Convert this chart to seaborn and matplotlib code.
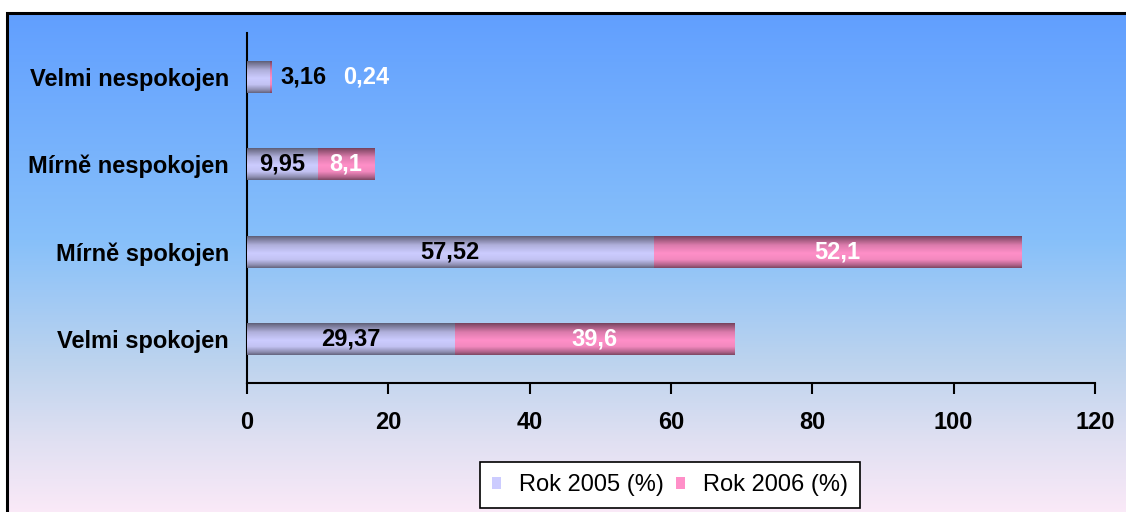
import numpy as np
import matplotlib
matplotlib.use('Agg')
import matplotlib.pyplot as plt
import seaborn as sns
from matplotlib.patches import Rectangle, Patch

# data
categories = ['Velmi nespokojen', 'Mírně nespokojen', 'Mírně spokojen', 'Velmi spokojen']
rok_2005 = [3.16, 9.95, 57.52, 29.37]
rok_2006 = [0.24, 8.1, 52.1, 39.6]
labels_2005 = ['3,16', '9,95', '57,52', '29,37']
labels_2006 = ['0,24', '8,1', '52,1', '39,6']
series_names = ['Rok 2005 (%)', 'Rok 2006 (%)']
x_ticks = [0, 20, 40, 60, 80, 100, 120]

sns.set_style('white')
plt.rcParams['font.family'] = ['Liberation Sans', 'DejaVu Sans']
plt.rcParams['text.color'] = 'black'
plt.rcParams['xtick.color'] = 'black'
plt.rcParams['ytick.color'] = 'black'

fig = plt.figure(figsize=(11.26, 5.12), dpi=100)

# background gradient inside the black frame
bg = fig.add_axes([0, 0, 1, 1], zorder=-10)
stops = [0.0, 0.45, 0.7, 0.85, 1.0]
cols = np.array([(97, 159, 255), (135, 192, 250), (190, 212, 238),
                 (224, 224, 242), (252, 234, 248)]) / 255
t = np.linspace(0, 1, 300)
grad = np.stack([np.interp(t, stops, cols[:, i]) for i in range(3)], axis=1)
frame_left = 7 / 1126
frame_top = 1 - 13 / 512
bg.imshow(grad[:, None, :], aspect='auto', extent=(frame_left, 1.01, -0.01, frame_top),
          origin='upper')
bg.set_xlim(0, 1)
bg.set_ylim(0, 1)
bg.axis('off')
fig.patches.append(Rectangle((frame_left, -0.02), 1.0, frame_top + 0.02, transform=fig.transFigure,
                             fill=False, edgecolor='black', linewidth=2.2, zorder=-5))

ax = fig.add_axes([247 / 1126, 1 - 383 / 512, 848 / 1126, 350 / 512])
ax.set_facecolor('none')

totals = [a + b for a, b in zip(rok_2005, rok_2006)]
c2005 = np.array([204, 204, 255]) / 255
c2006 = np.array([255, 143, 200]) / 255
sns.barplot(x=totals, y=categories, orient='h', color=c2006, width=0.37, ax=ax,
            saturation=1, edgecolor='none')
sns.barplot(x=rok_2005, y=categories, orient='h', color=c2005, width=0.37, ax=ax,
            saturation=1, edgecolor='none')

# cylinder-like shading
pos = [0.0, 0.08, 0.3, 0.55, 0.75, 0.92, 1.0]
fac = [0.42, 0.55, 0.86, 1.0, 0.95, 0.68, 0.5]
shade = np.interp(np.linspace(0, 1, 60), pos, fac)
for p in ax.patches:
    base = np.array(p.get_facecolor()[:3])
    img = np.clip(shade[:, None, None] * base[None, None, :], 0, 1)
    x0, y0 = p.get_x(), p.get_y()
    w, h = p.get_width(), p.get_height()
    im = ax.imshow(img, aspect='auto', extent=(x0, x0 + w, y0 + h, y0), origin='upper',
                   zorder=3, interpolation='bilinear')
    im.set_clip_path(p)

ax.set_xlim(0, 120)
ax.set_ylim(3.5, -0.5)

# value labels
for i in range(len(categories)):
    a, b = rok_2005[i], rok_2006[i]
    if a < 5:
        xa = a + 4.8
        xb = a + 13.7
    else:
        xa = a / 2
        xb = a + b / 2
    ax.text(xa, i, labels_2005[i], ha='center', va='center', fontsize=17,
            fontweight='bold', color='black', zorder=5)
    ax.text(xb, i, labels_2006[i], ha='center', va='center', fontsize=17,
            fontweight='bold', color='white', zorder=5)

sns.despine(ax=ax, top=True, right=True)
ax.spines['left'].set_color('black')
ax.spines['bottom'].set_color('black')
ax.spines['left'].set_linewidth(1.5)
ax.spines['bottom'].set_linewidth(1.5)
ax.set_xticks(x_ticks)
ax.set_xticklabels([str(v) for v in x_ticks], fontsize=17, fontweight='bold')
ax.tick_params(axis='x', bottom=True, direction='out', length=8, width=1.5, color='black', pad=12)
ax.tick_params(axis='y', left=False, length=0, pad=13)
for lbl in ax.get_yticklabels():
    lbl.set_fontsize(17)
    lbl.set_fontweight('bold')
ax.set_xlabel('')
ax.set_ylabel('')

handles = [Patch(facecolor=c2005, edgecolor='none'), Patch(facecolor=c2006, edgecolor='none')]
leg = fig.legend(handles, series_names, loc='center', bbox_to_anchor=(670 / 1126, 1 - 485 / 512),
                 ncol=2, fontsize=17, frameon=True, fancybox=False, handlelength=0.4,
                 handleheight=0.4, handletextpad=0.75, columnspacing=0.5, borderpad=0.5)
leg.get_frame().set_edgecolor('black')
leg.get_frame().set_linewidth(1.2)
leg.get_frame().set_facecolor('white')
leg.get_frame().set_alpha(1)

fig.savefig('out.png', dpi=100)
